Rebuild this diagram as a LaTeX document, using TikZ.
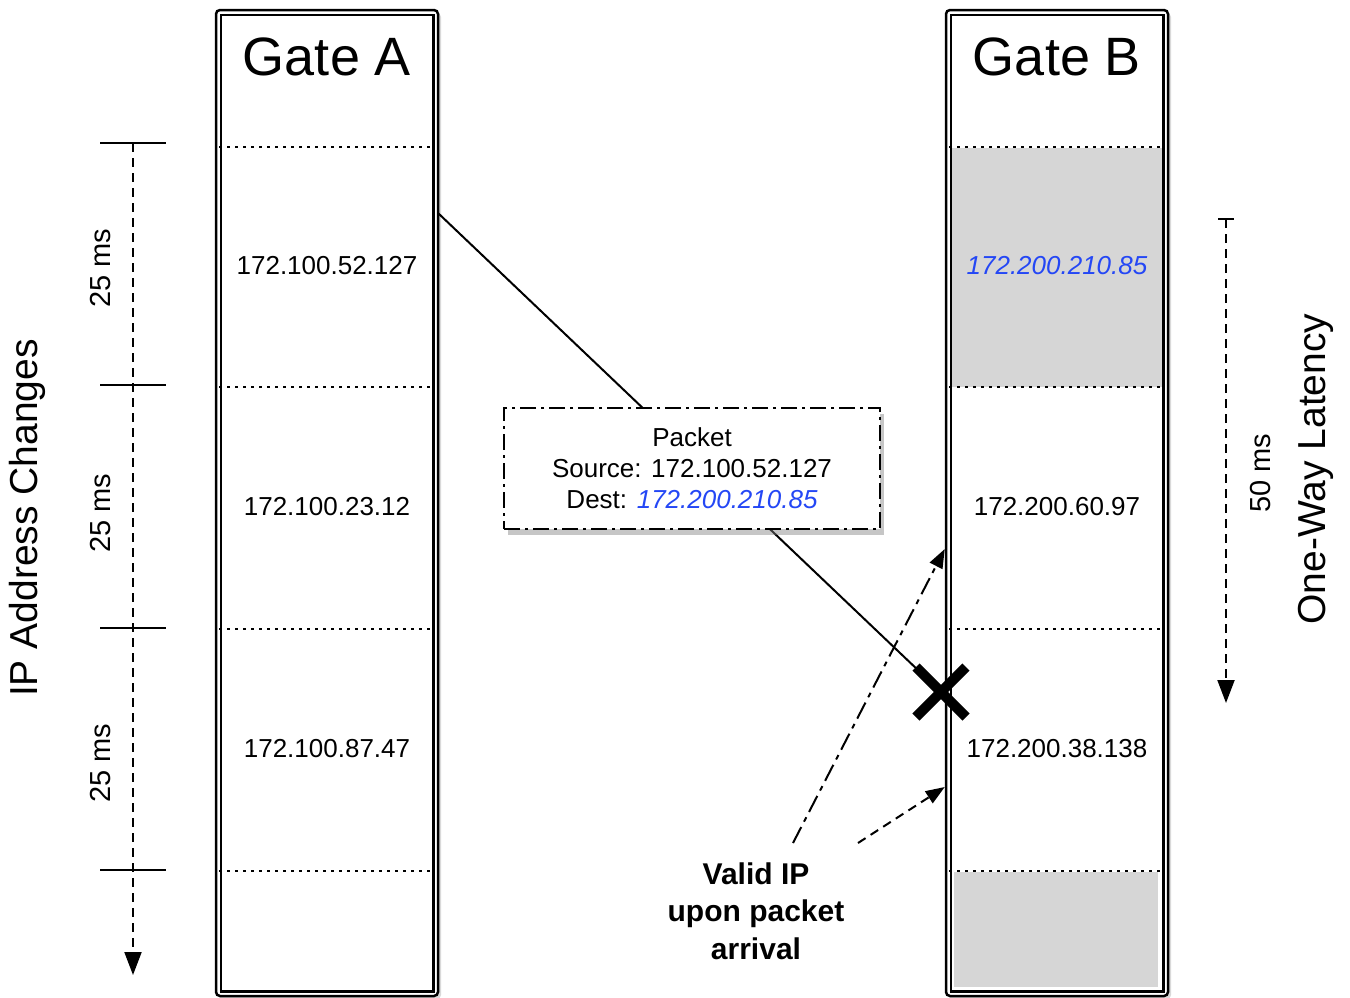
\documentclass[tikz,border=0pt]{standalone}
\usepackage{fontspec}
\setmainfont{Liberation Sans}
\usetikzlibrary{arrows.meta, shadows, shapes.misc}
\definecolor{ipblue}{HTML}{2447F5}
\definecolor{slotgray}{HTML}{D6D6D6}

\begin{document}
\begin{tikzpicture}[x=1pt, y=-1pt,
  gate/.style={rectangle, draw, line width=2.5pt, rounded corners=4pt, fill=white, minimum width=222pt, minimum height=986pt, drop shadow={shadow xshift=3pt, shadow yshift=-3pt, opacity=0.3}},
  title/.style={font=\fontsize{54}{60}\selectfont},
  ip/.style={font=\fontsize{26}{31}\selectfont},
  dest/.style={font=\fontsize{26}{31}\selectfont\itshape, text=ipblue},
  packet/.style={rectangle, draw, line width=2pt, dash pattern=on 16pt off 5pt on 3pt off 5pt, fill=white, minimum width=376pt, minimum height=121pt, align=center, font=\fontsize{26}{31}\selectfont, drop shadow={shadow xshift=4pt, shadow yshift=-6pt, opacity=0.45}},
  note/.style={align=center, font=\fontsize{30}{37.5}\selectfont\bfseries},
  ms/.style={rotate=90, font=\fontsize{29}{34}\selectfont},
  axislabel/.style={rotate=90, font=\fontsize{39}{46}\selectfont},
  slot/.style={line width=2pt, dash pattern=on 2.5pt off 5.5pt},
  tick/.style={line width=2pt},
  scalearrow/.style={line width=2pt, dash pattern=on 9pt off 6pt, -{Triangle[length=23pt, width=17pt]}},
  hintarrow/.style={line width=2pt, -{Triangle[length=19pt, width=14pt]}}
]
\useasboundingbox (0,0) rectangle (1350,997);

\node[gate] (gateA) at (327,503) {};
\node[gate] (gateB) at (1057,503) {};
\fill[slotgray] (952,148) rectangle (1162,387);
\fill[slotgray] (954,872) rectangle (1158,987);
\foreach \g in {gateA,gateB}
  \draw[line width=2.5pt] ([shift={(6,6)}]\g.north west) rectangle ([shift={(-6,-6)}]\g.south east);
\foreach \y in {147,387,629,871} {
  \draw[slot] (219,\y) -- (432,\y);
  \draw[slot] (949,\y) -- (1162,\y);
}

\node[title] (titleA) at (327,57) {Gate A};
\node[title] (titleB) at (1057,57) {Gate B};
\node[ip] (a1) at (327,266) {172.100.52.127};
\node[ip] (a2) at (327,507) {172.100.23.12};
\node[ip] (a3) at (327,749) {172.100.87.47};
\node[dest] (b1) at (1057,266) {172.200.210.85};
\node[ip] (b2) at (1057,507) {172.200.60.97};
\node[ip] (b3) at (1057,749) {172.200.38.138};

\foreach \y in {143,385,628,870}
  \draw[tick] (100,\y) -- (166,\y);
\draw[scalearrow] (133,143) -- (133,975);
\foreach \y [count=\i] in {268,513,763}
  \node[ms] (ms\i) at (101,\y) {25 ms};
\node[axislabel] (ipchanges) at (27,518) {IP Address Changes};

\draw[tick] (1218,219) -- (1234,219);
\draw[scalearrow] (1226,219) -- (1226,703);
\node[ms] (latms) at (1261,473) {50 ms};
\node[axislabel] (oneway) at (1316,469) {One-Way Latency};

\coordinate (src) at (438,213);
\coordinate (drop) at (941,692);
\draw[line width=2pt] (src) -- (drop);
\node[cross out, draw, line width=10pt, minimum size=40pt] (hit) at (drop) {};
\node[packet] (packet) at (692,468.5) {Packet\\Source: 172.100.52.127\\Dest: \textcolor{ipblue}{\itshape 172.200.210.85}};

\node[note] (valid) at (756,911) {Valid IP\\upon packet\\arrival};
\coordinate (v1) at (793,843);
\coordinate (v2) at (858,843);
\draw[hintarrow, dash pattern=on 18pt off 6pt on 5pt off 6pt] (v1) -- (gateB.west |- 0,549);
\draw[hintarrow, dash pattern=on 9pt off 6pt] (v2) -- (gateB.west |- 0,787);
\end{tikzpicture}
\end{document}
